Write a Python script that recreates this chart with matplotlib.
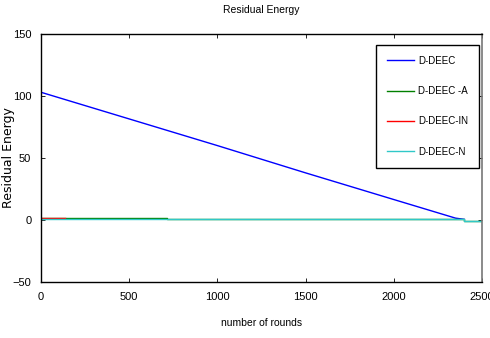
import matplotlib
matplotlib.use("Agg")
import matplotlib.pyplot as plt

# data
rounds_ddeec = [0, 500, 1000, 1500, 2000, 2350, 2400]
energy_ddeec = [103, 81.5, 60, 38, 16.5, 1.5, 0.5]

rounds_a = [0, 715, 715, 2400, 2400, 2500]
energy_a = [2, 2, 1, 1, -1, -1]

rounds_in = [0, 135]
energy_in = [2, 2]

rounds_n = [0, 2400, 2400, 2500]
energy_n = [0.5, 0.5, -1, -1]

xticks = [0, 500, 1000, 1500, 2000, 2500]
yticks = [-50, 0, 50, 100, 150]

plt.rcParams["font.family"] = ["Liberation Sans", "DejaVu Sans"]

fig = plt.figure(figsize=(4.9, 3.38), dpi=100)
ax = fig.add_axes([0.0837, 0.1657, 0.9, 0.7337])

ax.plot(rounds_ddeec, energy_ddeec, color="#0000ff", lw=1, label="D-DEEC")
ax.plot(rounds_a, energy_a, color="#008000", lw=1, label="D-DEEC -A")
ax.plot(rounds_in, energy_in, color="#ff0000", lw=1, label="D-DEEC-IN")
ax.plot(rounds_n, energy_n, color="#30c8c8", lw=1, label="D-DEEC-N")

ax.set_xlim(0, 2500)
ax.set_ylim(-50, 150)
ax.set_xticks(xticks)
ax.set_yticks(yticks)
ax.tick_params(direction="in", top=True, right=True, length=3, width=0.6,
               labelsize=8, pad=7)

for s in ["left", "bottom", "top"]:
    ax.spines[s].set_linewidth(1.0)
ax.spines["right"].set_color("#777777")
ax.spines["right"].set_linewidth(1.2)

ax.set_title("Residual Energy", fontsize=7.5, pad=15)
ax.set_xlabel("number of rounds", fontsize=7.5, labelpad=12)
ax.set_ylabel("Residual Energy", fontsize=9, family="DejaVu Sans")
ax.yaxis.set_label_coords(-0.06, 0.5)

leg = ax.legend(loc="upper right", bbox_to_anchor=(0.993, 0.956),
                fontsize=7, labelspacing=2.1, handlelength=2.8,
                handletextpad=0.4, borderpad=1.1, borderaxespad=0,
                fancybox=False, framealpha=1, edgecolor="black")
leg.get_frame().set_linewidth(1.0)

fig.savefig("out.png", dpi=100)
